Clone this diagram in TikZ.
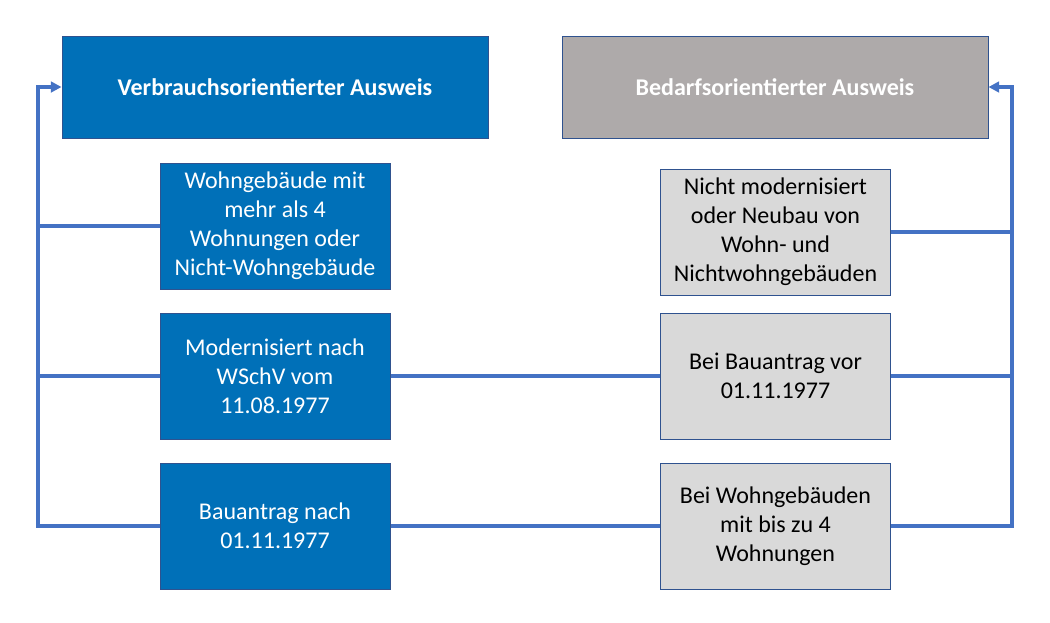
\documentclass[tikz,border=0pt]{standalone}
\usepackage{fontspec}
\setmainfont{Carlito}
\usetikzlibrary{arrows.meta}
\definecolor{boxblue}{RGB}{0,112,184}
\definecolor{edgeblue}{RGB}{47,82,143}
\definecolor{headgray}{RGB}{174,170,170}
\definecolor{boxgray}{RGB}{217,217,217}
\definecolor{linkblue}{RGB}{68,114,196}

\begin{document}
\begin{tikzpicture}[x=0.75pt,y=-0.75pt,
        every node/.style={align=center, inner sep=0pt, font=\fontsize{18}{21.8}\selectfont},
        head/.style={draw=edgeblue, line width=0.75pt, minimum width=319.5pt, minimum height=76.5pt, text=white, font=\fontsize{18}{21.8}\selectfont\bfseries},
        case/.style={draw=edgeblue, line width=0.75pt, minimum width=172.5pt, minimum height=94.5pt},
        link/.style={linkblue, line width=2.6pt},
        >={Triangle[length=8pt,width=8pt]}]
        \useasboundingbox (0,0) rectangle (1050,622);
        % Headers
        \node[head, fill=boxblue] (verbrauch) at (275,87) {Verbrauchsorientierter Ausweis};
        \node[head, fill=headgray] (bedarf) at (775,87) {Bedarfsorientierter Ausweis};
        % Left cases
        \node[case, fill=boxblue, text=white] (vb1) at (275,226) {Wohngebäude mit\\mehr als 4\\Wohnungen oder\\Nicht-Wohngebäude};
        \node[case, fill=boxblue, text=white] (vb2) at (275,376) {Modernisiert nach\\WSchV vom\\11.08.1977};
        \node[case, fill=boxblue, text=white] (vb3) at (275,526) {Bauantrag nach\\01.11.1977};
        % Right cases
        \node[case, fill=boxgray] (bd1) at (775.5,232) {Nicht modernisiert\\oder Neubau von\\Wohn- und\\Nichtwohngebäuden};
        \node[case, fill=boxgray] (bd2) at (775.5,376) {Bei Bauantrag vor\\01.11.1977};
        \node[case, fill=boxgray] (bd3) at (775.5,526) {Bei Wohngebäuden\\mit bis zu 4\\Wohnungen};
        % Bus lines
        \coordinate (lbus) at (38,526);
        \coordinate (rbus) at (1012,526);
        \draw[link, ->] (vb3.west) -- (lbus) |- (verbrauch.west);
        \draw[link] (vb1.west) -- (vb1.west -| lbus);
        \draw[link] (vb2.west) -- (vb2.west -| lbus);
        \draw[link, ->] (bd3.east) -- (rbus) |- (bedarf.east);
        \draw[link] (bd1.east) -- (bd1.east -| rbus);
        \draw[link] (bd2.east) -- (bd2.east -| rbus);
        % Cross links
        \draw[link] (vb2.east) -- (bd2.west);
        \draw[link] (vb3.east) -- (bd3.west);
\end{tikzpicture}
\end{document}
